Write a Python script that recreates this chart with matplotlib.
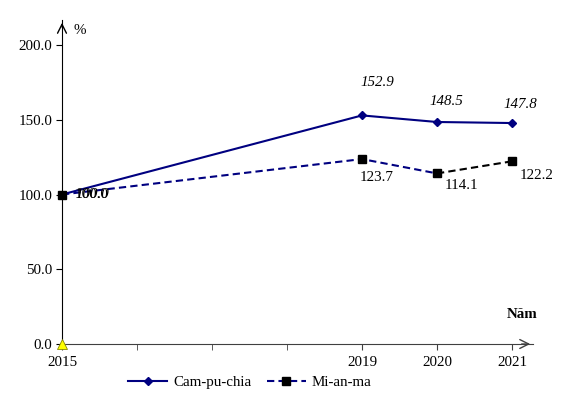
import matplotlib
matplotlib.use("Agg")
import matplotlib.pyplot as plt
from matplotlib.lines import Line2D

years = [2015, 2019, 2020, 2021]
cam = [100.0, 152.9, 148.5, 147.8]
mya = [100.0, 123.7, 114.1, 122.2]
yticks = [0, 50, 100, 150, 200]
series_names = ["Cam-pu-chia", "Mi-an-ma"]

plt.rcParams['font.family'] = ['Liberation Serif', 'DejaVu Serif']
FS = 10.8
NAVY = '#000080'

W, H = 573, 395
fig = plt.figure(figsize=(W/100, H/100), dpi=100)
x0, x1 = 62, 533
y0, y1 = 344, 20
ax = fig.add_axes([x0/W, (H-y0)/H, (x1-x0)/W, (y0-y1)/H])
ax.set_xlim(2015, 2015 + (x1-x0)/75)
ax.set_ylim(0, (y0-y1)/1.495)
ax.patch.set_alpha(0)

for s in ['top', 'right']:
    ax.spines[s].set_visible(False)
ax.spines['left'].set_color('black')
ax.spines['bottom'].set_color('#404040')

# arrows
ax.annotate('', xy=(1.0, 0), xycoords='axes fraction', xytext=(0.97, 0),
            arrowprops=dict(arrowstyle='->', color='#404040', lw=1.0, mutation_scale=16))
ax.annotate('', xy=(0, 1.0), xycoords='axes fraction', xytext=(0, 0.97),
            arrowprops=dict(arrowstyle='->', color='black', lw=1.0, mutation_scale=16))

ax.set_yticks(yticks)
ax.set_yticklabels([f"{v:.1f}" for v in yticks], fontsize=FS)
ax.set_xticks(years)
ax.set_xticklabels([str(y) for y in years], fontsize=FS)
ax.set_xticks([2016, 2017, 2018], minor=True)
ax.tick_params(axis='x', which='both', direction='out', length=4, color='#404040', pad=5)
ax.tick_params(axis='y', direction='out', length=4, pad=3)

# Cam-pu-chia
ax.plot(years, cam, color=NAVY, lw=1.5, marker='D', ms=4.5, mfc=NAVY, mec=NAVY, zorder=3, clip_on=False)
# Mi-an-ma
ax.plot(years[:3], mya[:3], color=NAVY, lw=1.5, ls=(0, (3.5, 2)), zorder=3, clip_on=False)
ax.plot(years[2:], mya[2:], color='black', lw=1.5, ls=(0, (3.5, 2)), zorder=3, clip_on=False)
ax.plot(years, mya, ls='none', marker='s', ms=6, color='black', zorder=4, clip_on=False)

# origin marker
ax.plot([2015], [0], marker='^', ms=7, mfc='#FFFF00', mec='#888800', mew=0.6, ls='none', clip_on=False, zorder=5)

# labels
cam_off = [(30, 0), (15, 33), (9, 20), (8, 19)]
mya_off = [(30, 0), (15, -18), (24, -12), (25, -14)]
for i, (x, v) in enumerate(zip(years, cam)):
    ax.annotate(f"{v:.1f}", (x, v), textcoords='offset pixels', xytext=cam_off[i],
                ha='center', va='center', fontsize=FS, style='italic')
for i, (x, v) in enumerate(zip(years, mya)):
    ax.annotate(f"{v:.1f}", (x, v), textcoords='offset pixels', xytext=mya_off[i],
                ha='center', va='center', fontsize=FS)

fig.text(80/W, 1-30/H, '%', fontsize=FS, ha='center', va='center')
fig.text(522/W, 1-314/H, 'Năm', fontsize=FS, ha='center', va='center', weight='bold')

handles = [
    Line2D([], [], color=NAVY, lw=1.5, marker='D', ms=4.5),
    Line2D([], [], color=NAVY, lw=1.5, ls=(0, (3.5, 2)), marker='s', ms=6, mfc='black', mec='black'),
]
fig.legend(handles, series_names, loc='center', bbox_to_anchor=(250/W, 1-382/H), ncol=2,
           frameon=False, fontsize=FS, handlelength=2.6, handletextpad=0.4, columnspacing=1.0)

fig.savefig('out.png', dpi=100)
